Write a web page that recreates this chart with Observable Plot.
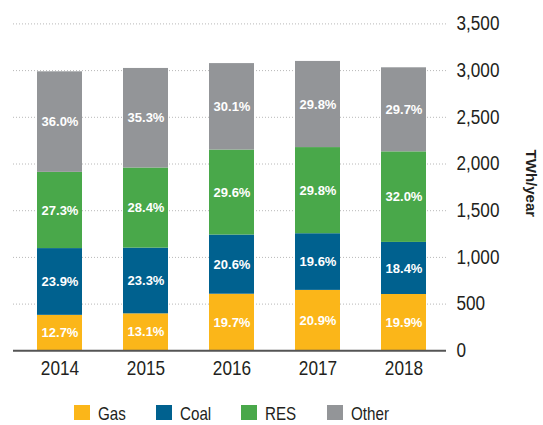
<!DOCTYPE html>
<html>
<head>
<meta charset="utf-8">
<script src="https://cdn.jsdelivr.net/npm/d3@7"></script>
<script src="https://cdn.jsdelivr.net/npm/@observablehq/plot@0.6"></script>
<style>
  html, body { margin: 0; padding: 0; background: #fff; }
  #wrap { position: relative; width: 543px; height: 425px; overflow: hidden; }
  #legend { position: absolute; left: 74px; top: 405px; display: flex; align-items: center;
            font-family: "Liberation Sans", Arial, sans-serif;
            font-size: 18.5px; line-height: 15px; color: #231F20; white-space: nowrap; }
  #legend .item { display: flex; align-items: center; margin-right: 30.5px; }
  #legend .sw { width: 16px; height: 15px; margin-right: 7.7px; flex: none; }
  #legend .txt { display: inline-block; transform: scaleX(0.82); transform-origin: 0 50%; position: relative; top: 1px; }
</style>
</head>
<body>
<div id="wrap"><div id="chart"></div><div id="legend"></div></div>
<script>
const years = ["2014", "2015", "2016", "2017", "2018"];
const sources = ["Gas", "Coal", "RES", "Other"];
const colors = ["#FBB619", "#00618F", "#49A84A", "#939598"];
const totals = [2990, 3020, 3075, 3095, 3030];
const gasPct = [12.7, 13.1, 19.7, 20.9, 19.9];
const coalPct = [23.9, 23.3, 20.6, 19.6, 18.4];
const resPct = [27.3, 28.4, 29.6, 29.8, 32.0];
const otherPct = [36.0, 35.3, 30.1, 29.8, 29.7];
const yTicks = [0, 500, 1000, 1500, 2000, 2500, 3000, 3500];
const yLabel = "TWh/year";

const pctBySource = [gasPct, coalPct, resPct, otherPct];
const rows = [];
sources.forEach((s, i) => {
  years.forEach((y, j) => {
    rows.push({year: y, source: s, pct: pctBySource[i][j], value: totals[j] * pctBySource[i][j] / 100});
  });
});

const font = "'Liberation Sans', Arial, sans-serif";

const chart = Plot.plot({
  width: 543,
  height: 390,
  marginTop: 23.4,
  marginBottom: 39.7,
  marginLeft: 13,
  marginRight: 97,
  style: {fontFamily: font, fontSize: "19px", color: "#231F20", background: "white"},
  x: {domain: years, paddingInner: 0.471, paddingOuter: 0.23, align: 0.55, tickSize: 0, tickPadding: 9, label: null},
  y: {domain: [0, 3500], axis: "right", ticks: yTicks, tickSize: 0, tickPadding: 10, tickFormat: d3.format(","), label: null},
  color: {domain: sources, range: colors},
  marks: [
    Plot.ruleY(yTicks.filter(d => d > 0), {stroke: "#b8b8b8", strokeDasharray: "1,2"}),
    Plot.barY(rows, Plot.stackY({x: "year", y: "value", fill: "source", order: sources})),
    Plot.text(rows, Plot.stackY({x: "year", y: "value", z: "source", order: sources,
      text: d => d.pct.toFixed(1) + "%", fill: "white", fontWeight: "bold", fontSize: 13,
      ariaLabel: "bar-labels"})),
    Plot.ruleY([0], {stroke: "#555", strokeWidth: 2}),
    Plot.text([yLabel], {frameAnchor: "right", textAnchor: "middle", rotate: 90, dx: 84, dy: -4, fontSize: 15,
      fontWeight: "bold", fill: "#231F20"})
  ]
});
document.getElementById("chart").appendChild(chart);

// horizontally condense texts around their anchor (the reference uses a narrow face)
function squash(sel, s, size) {
  chart.querySelectorAll(sel).forEach(t => {
    const x = parseFloat(t.getAttribute("x")) || 0;
    const tr = t.getAttribute("transform") || "";
    t.setAttribute("transform", `${tr} translate(${x},0) scale(${s},1) translate(${-x},0)`);
    if (size) t.style.fontSize = size + "px";
  });
}
squash('[aria-label^="x-axis"] text', 0.82, 21);
squash('[aria-label^="y-axis"] text', 0.88, 19.5);
squash('[aria-label="bar-labels"] text', 0.81, null);

const legend = document.getElementById("legend");
sources.forEach((s, i) => {
  const item = document.createElement("div");
  item.className = "item";
  const sw = document.createElement("div");
  sw.className = "sw";
  sw.style.background = colors[i];
  const t = document.createElement("span");
  t.className = "txt";
  t.textContent = s;
  item.appendChild(sw);
  item.appendChild(t);
  legend.appendChild(item);
  t.style.marginRight = (-(t.offsetWidth * 0.18)) + "px";
});
</script>
</body>
</html>
